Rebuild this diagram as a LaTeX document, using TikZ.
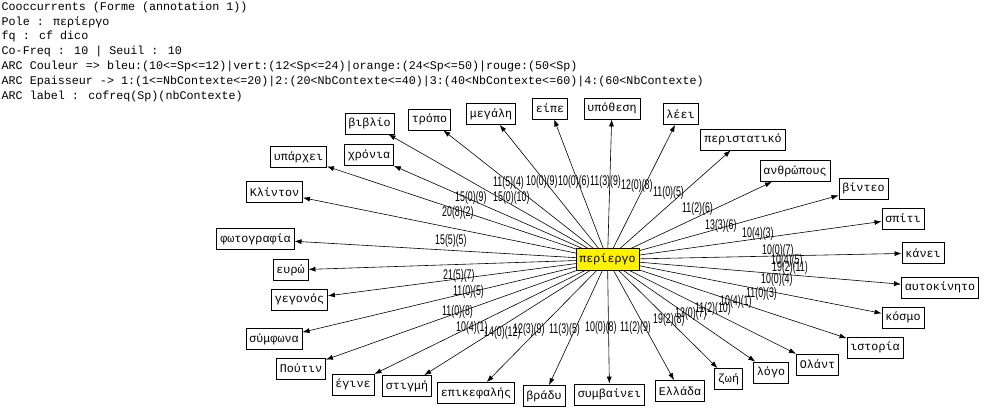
\documentclass[tikz,border=0pt]{standalone}
\usepackage{fontspec}
\usepackage{tikz}
\usetikzlibrary{arrows.meta}
\newfontfamily\monofont{Liberation Mono}
\newfontfamily\lblfont[FakeStretch=0.63]{Liberation Sans}

\tikzset{
  word/.style={draw=black, fill=white, line width=0.8pt,
    font=\monofont\fontsize{11.7}{14}\selectfont,
    inner xsep=3.5pt, inner ysep=0pt, minimum height=21pt},
  pole/.style={word, fill=yellow, minimum height=22pt},
  arc/.style={-{Latex[length=7pt,width=5pt]}, line width=0.6pt},
  cofreq/.style={font=\lblfont\fontsize{14}{14}\selectfont, inner sep=0pt, anchor=base west},
  head/.style={font=\monofont\fontsize{11.7}{14}\selectfont, inner sep=0pt, anchor=base west}
}

\begin{document}
\begin{tikzpicture}[x=1pt,y=-1pt]
  \fill[white] (0,0) rectangle (990,411);
  \useasboundingbox (0,0) rectangle (990,411);
  % header lines
  \foreach \i/\t in {0/{Cooccurrents (Forme (annotation 1))},
                     1/{Pole : περίεργο},
                     2/{fq : cf dico},
                     3/{Co-Freq : 10 | Seuil : 10},
                     4/{ARC Couleur => bleu:(10<=Sp<=12)|vert:(12<Sp<=24)|orange:(24<Sp<=50)|rouge:(50<Sp)},
                     5/{ARC Epaisseur -> 1:(1<=NbContexte<=20)|2:(20<NbContexte<=40)|3:(40<NbContexte<=60)|4:(60<NbContexte)},
                     6/{ARC label : cofreq(Sp)(nbContexte)}} {
    \node[head] (h\i) at (1.5,10.3+14.8*\i) {\t};
  }
  % pole of the star
  \coordinate (c) at (607.5,259.5);
  % cooccurrents: name/word/x/y/label/label x/label y
  \foreach \nm/\txt/\x/\y/\cf/\lx/\ly in {
      foto/φωτογραφία/255.5/239/15(5)(5)/435/245,
      klin/Κλίντον/274.5/192/20(8)(2)/442/217,
      yparx/υπάρχει/298.5/157/15(0)(9)/455/202,
      xron/χρόνια/369/155/15(0)(10)/493/202,
      vivl/βιβλίο/369.5/123.5/11(5)(4)/493/187,
      trop/τρόπο/429.5/119.5/10(0)(9)/526/186,
      meg/μεγάλη/491/114/10(0)(6)/558/186,
      eipe/είπε/550/108.5/11(3)(9)/590/186,
      ypoth/υπόθεση/612/108.5/12(0)(8)/621/190,
      leei/λέει/680.5/114/11(0)(5)/653/197,
      peri/περιστατικό/743/139.5/11(2)(6)/682/213,
      anthr/ανθρώπους/795/171/13(3)(6)/705/230,
      vint/βίντεο/863.5/188.5/10(4)(3)/742/238,
      spiti/σπίτι/903/218.5/10(0)(7)/762/255,
      kanei/κάνει/923/253/10(4)(5)/771/265,
      auto/αυτοκίνητο/940/287.5/19(2)(11)/772/272,
      kosmo/κόσμο/903/317.5/10(0)(4)/761/284,
      istor/ιστορία/875/347.5/11(0)(3)/746/298,
      olant/Ολάντ/817.5/364.5/10(4)(1)/720/306,
      logo/λόγο/771/372.5/11(2)(10)/695/313,
      zoi/ζωή/728.5/379/13(0)(7)/675/318,
      ellada/Ελλάδα/680/391/19(2)(8)/653/324,
      symv/συμβαίνει/609.5/394.5/11(2)(9)/620/331,
      vrady/βράδυ/544/396/10(0)(8)/585/332,
      epik/επικεφαλής/476/393/11(3)(5)/549/334,
      stigmi/στιγμή/407/386/12(3)(9)/513/334,
      egine/έγινε/353/384.5/14(0)(12)/484/337,
      poutin/Πούτιν/301/368.5/10(4)(1)/456/331,
      symf/σύμφωνα/274/339/11(0)(8)/442/316,
      gegon/γεγονός/299.5/299.5/11(0)(5)/453/296,
      evro/ευρώ/290.5/270/21(5)(7)/443/280} {
    \node[word] (\nm) at (\x,\y) {\txt};
    \draw[arc] (c) -- (\nm);
    \node[cofreq] (l-\nm) at (\lx,\ly) {\cf};
  }
  \node[pole] (pole) at (c) {περίεργο};
\end{tikzpicture}
\end{document}
